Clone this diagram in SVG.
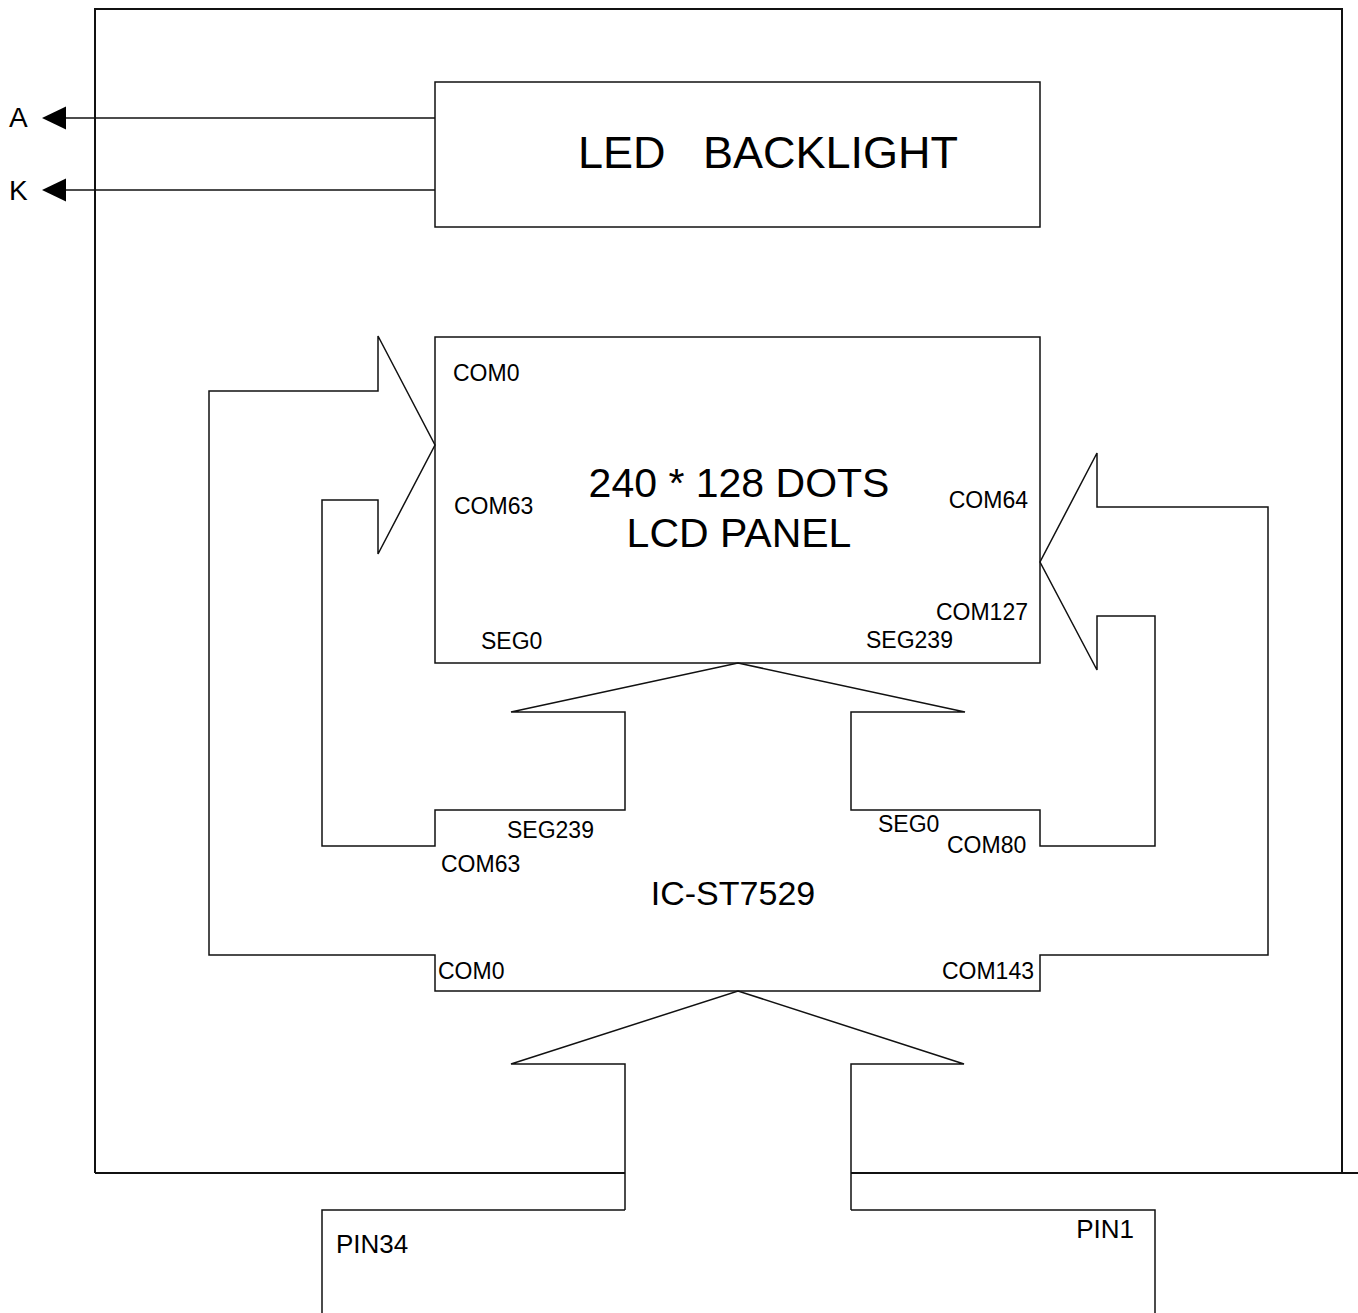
<svg xmlns="http://www.w3.org/2000/svg" width="1358" height="1313" viewBox="0 0 1358 1313">
<defs>
<style>
.ln{fill:none;stroke:#111;stroke-width:1.5;stroke-linejoin:miter}
.fr{fill:none;stroke:#111;stroke-width:2}
.t{font-family:"Liberation Sans",Arial,sans-serif;fill:#000}
.s{font-size:23px}
.m{font-size:26px}
.big{font-size:41px}
</style>
<marker id="ah" markerWidth="26" markerHeight="26" refX="0" refY="12" orient="auto" markerUnits="userSpaceOnUse">
<path d="M0,0.5 L24,12 L0,23.5 Z" fill="#000"/>
</marker>
</defs>
<rect width="1358" height="1313" fill="#fff"/>

<g id="frame">
<path class="fr" d="M95,1173 L95,9 L1342,9 L1342,1173"/>
<path class="fr" d="M95,1173 L625,1173 M851,1173 L1358,1173"/>
</g>

<g id="led-backlight">
<rect class="ln" x="435" y="82" width="605" height="145"/>
<text class="t" x="578" y="168" font-size="45" xml:space="preserve">LED   BACKLIGHT</text>
</g>

<g id="pin-a"><text class="t" x="9" y="127" font-size="28">A</text></g>
<g id="pin-k"><text class="t" x="9" y="200" font-size="28">K</text></g>

<g id="lcd-panel">
<rect class="ln" x="435" y="337" width="605" height="326"/>
<text class="t big" x="739" y="497" text-anchor="middle">240 * 128 DOTS</text>
<text class="t big" x="739" y="547" text-anchor="middle">LCD PANEL</text>
<text class="t s" x="453" y="381">COM0</text>
<text class="t s" x="454" y="514">COM63</text>
<text class="t s" x="481" y="649">SEG0</text>
<text class="t s" x="866" y="648">SEG239</text>
<text class="t s" x="1028" y="508" text-anchor="end">COM64</text>
<text class="t s" x="1028" y="620" text-anchor="end">COM127</text>
</g>

<g id="ic-st7529">
<path class="ln" d="M435,955 L209,955 L209,391 L378,391 L378,336 L435,445 L378,554 L378,500 L322,500 L322,846 L435,846 L435,810 L625,810 L625,712 L511,712 L738,663 L965,712 L851,712 L851,810 L1040,810 L1040,846 L1155,846 L1155,616 L1097,616 L1097,670 L1040,562 L1097,453 L1097,507 L1268,507 L1268,955 L1040,955 L1040,991 L435,991 Z"/>
<text class="t" x="733" y="905" font-size="34" text-anchor="middle">IC-ST7529</text>
<text class="t s" x="507" y="838">SEG239</text>
<text class="t s" x="441" y="872">COM63</text>
<text class="t s" x="878" y="832">SEG0</text>
<text class="t s" x="947" y="853">COM80</text>
<text class="t s" x="438" y="979">COM0</text>
<text class="t s" x="1034" y="979" text-anchor="end">COM143</text>
</g>

<g id="connector">
<path class="ln" d="M625,1210 L322,1210 L322,1313 M851,1210 L1155,1210 L1155,1313"/>
<text class="t m" x="336" y="1253">PIN34</text>
<text class="t m" x="1134" y="1238" text-anchor="end">PIN1</text>
</g>

<g id="connectors">
<path class="ln" d="M435,118 L66,118" marker-end="url(#ah)"/>
<path class="ln" d="M435,190 L66,190" marker-end="url(#ah)"/>
<path class="ln" d="M625,1210 L625,1064 L511,1064 L738,991 L964,1064 L851,1064 L851,1210"/>
</g>
</svg>
